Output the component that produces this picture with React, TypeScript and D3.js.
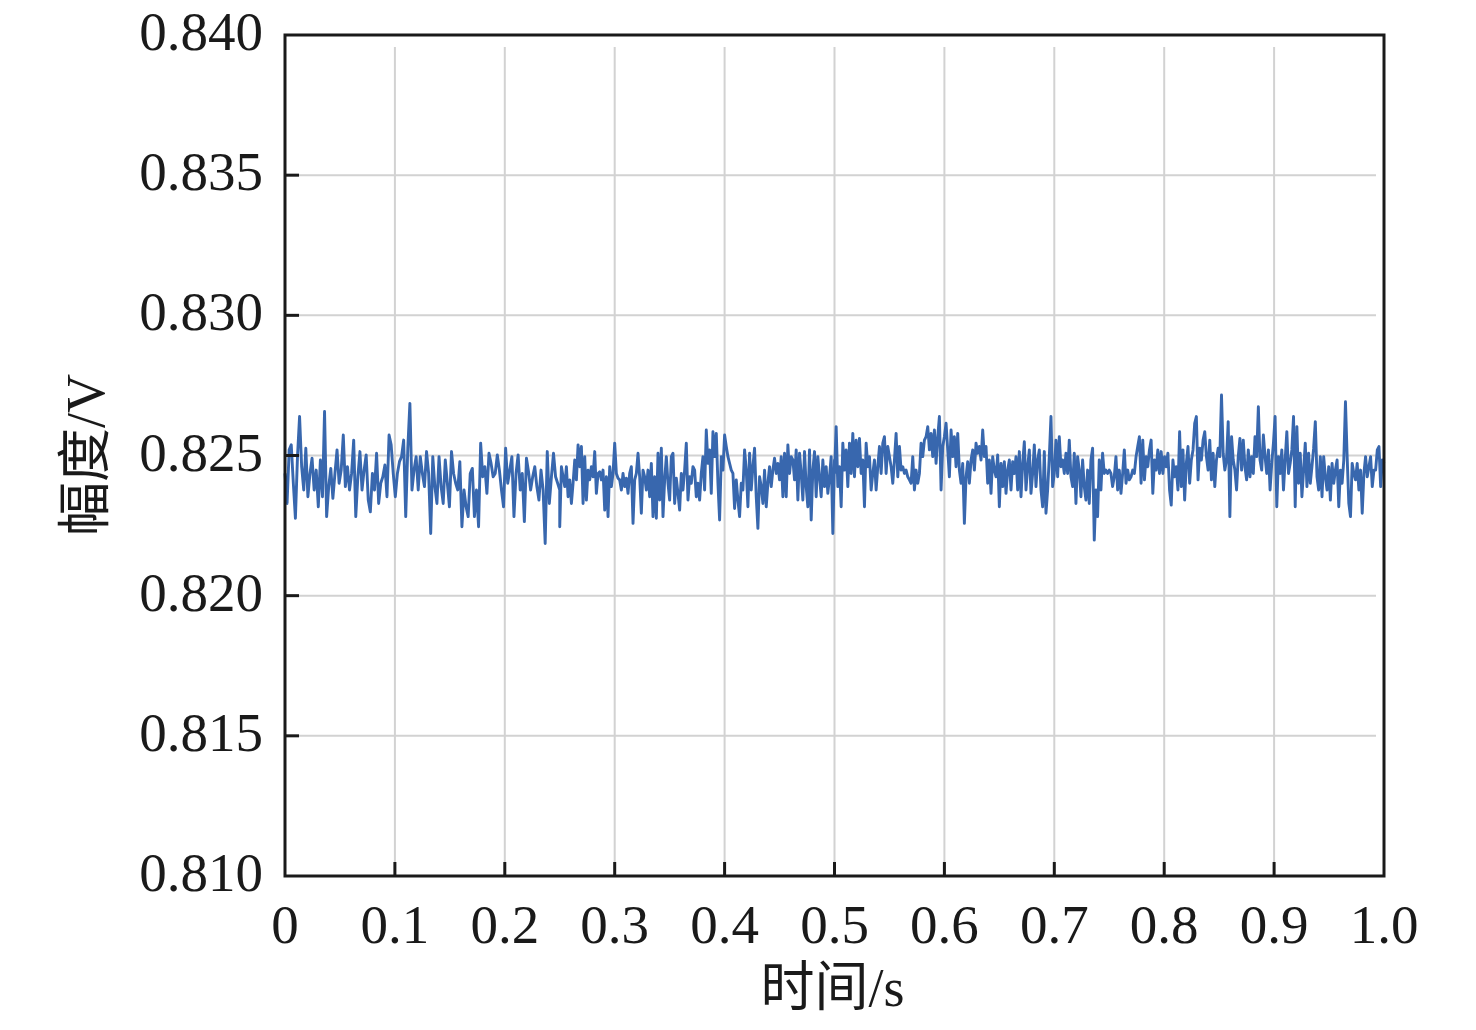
import * as d3 from "d3";
import React from "react";

// amplitude readings in mV, one array per quarter second
const amplitudeQ1 = [
  824.36, 823.29, 825.20, 825.38, 824.01, 822.76, 824.96, 826.39, 824.60, 823.77,
  825.26, 823.53, 824.36, 824.90, 823.77, 824.48, 823.17, 824.84, 823.53, 826.57,
  822.82, 823.89, 824.54, 823.47, 824.36, 825.20, 824.01, 824.48, 825.73, 823.89,
  824.60, 823.77, 824.36, 825.55, 822.82, 824.24, 825.14, 823.77, 824.48, 825.02,
  823.41, 822.99, 824.36, 823.77, 825.08, 823.29, 824.01, 824.24, 824.66, 823.53,
  825.73, 825.38, 824.36, 823.53, 824.36, 824.78, 824.96, 825.55, 822.82, 825.26,
  826.86, 823.77, 824.48, 824.96, 823.77, 824.96, 824.36, 823.89, 825.14, 824.36,
  822.22, 824.96, 823.89, 823.29, 824.96, 823.89, 823.29, 824.84, 824.01, 823.17,
  825.14, 824.36, 824.01, 823.77, 824.78, 822.46, 823.77, 823.17, 822.82, 824.36,
  824.54, 822.82, 823.77, 822.46, 825.44, 824.24, 824.60, 823.65, 825.08, 824.72,
  824.24, 824.36, 825.02, 824.48, 823.77, 823.17, 825.26, 824.01, 824.48, 824.96,
  822.82, 824.36, 825.02, 823.77, 824.36, 822.64, 824.90, 824.42, 823.77, 824.24,
  824.60, 823.89, 823.41, 824.48, 823.77, 821.86, 825.14, 823.29, 824.24, 825.08,
  824.24, 824.01, 823.77,
];

const amplitudeQ2 = [
  822.46, 824.60, 824.24, 823.89, 824.60, 823.53, 824.13, 823.29, 824.01, 824.84,
  824.13, 825.38, 824.60, 825.32, 823.29, 824.96, 823.41, 824.48, 824.13, 824.60,
  824.24, 825.14, 823.65, 824.36, 824.42, 824.13, 824.48, 823.05, 824.24, 822.82,
  824.60, 823.89, 824.36, 825.44, 824.36, 824.19, 824.13, 823.77, 824.36, 823.89,
  824.19, 823.65, 824.36, 824.60, 822.58, 824.13, 824.36, 825.08, 824.24, 822.94,
  824.48, 824.24, 823.77, 824.48, 823.53, 824.72, 822.82, 824.24, 822.76, 825.08,
  823.41, 825.26, 822.82, 824.13, 824.96, 824.01, 823.41, 824.96, 825.08, 823.29,
  824.19, 823.65, 823.05, 824.36, 823.77, 824.48, 825.44, 823.41, 824.24, 824.01,
  824.60, 824.48, 823.53, 824.01, 823.41, 824.36, 824.96, 823.77, 825.91, 824.72,
  825.20, 823.65, 825.85, 824.96, 825.79, 824.01, 822.70, 824.96, 824.48, 825.73,
  825.32, 824.96, 824.72, 824.48, 824.36, 823.11, 824.13, 823.41, 822.82, 824.01,
  823.77, 825.20, 824.48, 823.17, 825.08, 823.77, 824.60, 825.26, 823.53, 822.40,
  824.24, 823.89, 823.29, 824.48, 823.17, 824.01, 824.60, 823.89, 824.48, 824.90,
  824.36, 824.72, 824.13, 824.96, 823.53, 825.08, 823.53, 825.38, 824.36, 824.96,
  824.84, 824.13, 825.20, 823.41, 825.08, 824.36, 823.41, 825.14, 823.89, 823.17,
  825.20, 822.70, 824.48, 825.14, 823.53, 824.96, 824.24, 823.53, 824.84, 823.89,
  824.60, 823.65, 824.24, 824.96, 822.22, 824.84,
];

const amplitudeQ3 = [
  824.36, 826.03, 823.89, 824.60, 823.17, 825.44, 824.48, 825.20, 823.89, 825.44,
  824.36, 825.79, 824.24, 825.55, 824.60, 825.61, 824.36, 824.84, 823.17, 825.44,
  824.60, 824.96, 823.77, 824.36, 824.84, 823.77, 824.60, 825.32, 824.36, 825.44,
  825.67, 824.36, 825.32, 824.96, 824.60, 824.01, 824.84, 825.79, 824.24, 825.32,
  824.48, 824.60, 824.36, 824.48, 824.24, 824.13, 824.01, 824.96, 823.77, 824.48,
  824.01, 824.36, 825.44, 824.96, 825.55, 825.67, 826.03, 825.20, 825.79, 824.96,
  825.91, 824.72, 825.67, 826.39, 823.77, 825.32, 825.67, 826.15, 825.20, 824.24,
  825.91, 824.96, 825.67, 824.60, 825.79, 824.48, 824.01, 824.72, 822.58, 824.24,
  824.78, 824.01, 824.84, 825.20, 824.48, 825.44, 825.08, 825.32, 824.84, 825.91,
  824.96, 825.32, 824.01, 824.84, 823.65, 824.96, 824.48, 824.24, 825.02, 823.17,
  824.72, 823.89, 824.78, 823.65, 824.48, 824.84, 823.77, 824.78, 824.36, 824.96,
  823.77, 825.14, 823.53, 824.72, 825.49, 823.77, 824.60, 825.20, 823.65, 824.36,
  825.38, 823.89, 824.84, 825.20, 823.77, 823.17, 825.14, 822.94, 823.77, 824.96,
  826.39, 823.89, 824.36, 825.55, 824.24, 825.67, 824.60, 824.84, 824.36, 825.08,
  824.36, 825.55, 824.24, 823.89, 825.08, 823.29, 824.96, 824.48, 823.53, 824.84,
  823.89, 823.41, 824.48, 823.29, 824.84, 825.26, 821.98, 823.77, 822.82, 824.84,
  823.77, 825.08, 824.36, 824.48, 824.36, 824.48,
];

const amplitudeQ4 = [
  824.48, 824.36, 823.89, 824.24, 824.96, 823.77, 824.48, 823.65, 824.36, 825.20,
  824.01, 824.48, 824.13, 824.24, 824.48, 824.36, 824.96, 825.32, 825.67, 824.01,
  825.55, 824.13, 824.96, 824.60, 825.20, 825.55, 823.65, 824.84, 824.48, 825.20,
  824.36, 825.14, 824.36, 824.96, 824.60, 825.08, 823.77, 823.23, 824.84, 824.24,
  824.60, 823.77, 825.85, 823.89, 825.20, 823.41, 824.72, 825.32, 824.01, 824.84,
  825.20, 826.15, 826.39, 824.13, 825.26, 824.84, 825.55, 825.85, 824.96, 824.48,
  825.55, 824.13, 825.08, 823.89, 824.84, 825.26, 824.96, 827.16, 825.08, 824.48,
  824.84, 826.21, 822.82, 825.67, 824.84, 824.48, 823.77, 824.96, 825.61, 824.48,
  825.55, 824.60, 824.13, 825.20, 824.24, 824.96, 824.36, 825.67, 824.96, 826.74,
  824.84, 824.48, 825.73, 824.96, 824.36, 825.20, 823.77, 824.72, 825.44, 826.39,
  823.17, 824.96, 824.36, 825.20, 823.77, 824.84, 825.85, 824.36, 824.72, 825.20,
  826.39, 823.17, 826.03, 824.01, 825.08, 823.53, 824.48, 825.44, 823.89, 825.08,
  824.01, 824.60, 825.26, 826.21, 824.24, 823.77, 824.96, 823.53, 824.96, 824.24,
  823.77, 824.60, 823.41, 824.72, 824.01, 824.48, 824.84, 823.17, 824.48, 824.01,
  824.84, 826.92, 824.96, 823.29, 822.82, 824.72, 824.36, 824.13, 824.72, 823.77,
  824.48, 822.94, 824.36, 824.96, 824.24, 824.60, 824.96, 823.89, 824.48, 824.48,
  825.20, 825.32, 823.89, 824.84, 824.72,
];

const xTicks = [0, 0.1, 0.2, 0.3, 0.4, 0.5, 0.6, 0.7, 0.8, 0.9, 1.0];
const xTickLabels = ["0", "0.1", "0.2", "0.3", "0.4", "0.5", "0.6", "0.7", "0.8", "0.9", "1.0"];
const yTicks = [0.81, 0.815, 0.82, 0.825, 0.83, 0.835, 0.84];
const yTickLabels = ["0.810", "0.815", "0.820", "0.825", "0.830", "0.835", "0.840"];
const xTitle = "时间/s";
const yTitle = "幅度/V";

const W = 1476;
const H = 1030;
const margin = { top: 35, right: 92, bottom: 154, left: 285 };
const serif = "'Liberation Serif', 'Times New Roman', 'Noto Sans CJK SC', serif";

export default function App() {
  const width = W - margin.left - margin.right;
  const height = H - margin.top - margin.bottom;

  const x = d3.scaleLinear().domain([0, 1]).range([0, width]);
  const y = d3.scaleLinear().domain([0.81, 0.84]).range([height, 0]);

  // each quarter second is sampled evenly
  const quarters = [amplitudeQ1, amplitudeQ2, amplitudeQ3, amplitudeQ4];
  const points: [number, number][] = [];
  quarters.forEach((arr, k) => {
    arr.forEach((mv, i) => {
      points.push([0.25 * k + (0.25 * i) / (arr.length - 1), mv / 1000]);
    });
  });

  const line = d3.line<[number, number]>()
    .x(d => x(d[0]))
    .y(d => y(d[1]));

  const fontSize = 55;
  const tickLen = 14;

  return (
    <svg width={W} height={H} style={{ position: "absolute", left: 0, top: 0, background: "#fff" }}>
      <g transform={`translate(${margin.left},${margin.top})`}>
        {/* grid */}
        {xTicks.slice(1, -1).map(t => (
          <line key={"gx" + t} x1={x(t)} x2={x(t)} y1={12} y2={height}
            stroke="#d2d2d2" strokeWidth={2} />
        ))}
        {yTicks.slice(1, -1).map(t => (
          <line key={"gy" + t} x1={0} x2={width - 8} y1={y(t)} y2={y(t)}
            stroke="#d2d2d2" strokeWidth={2} />
        ))}

        <path d={line(points) ?? ""} fill="none" stroke="#3867ae" strokeWidth={2.9}
          strokeLinejoin="round" />

        {/* ticks inside */}
        {xTicks.slice(1, -1).map(t => (
          <line key={"tx" + t} x1={x(t)} x2={x(t)} y1={height} y2={height - tickLen}
            stroke="#1a1a1a" strokeWidth={3} />
        ))}
        {yTicks.slice(1, -1).map(t => (
          <line key={"ty" + t} x1={0} x2={tickLen} y1={y(t)} y2={y(t)}
            stroke="#1a1a1a" strokeWidth={3} />
        ))}

        <rect x={0} y={0} width={width} height={height} fill="none"
          stroke="#1a1a1a" strokeWidth={3} />

        {/* tick labels */}
        {yTicks.map((t, i) => (
          <text key={"ly" + t} x={-22} y={y(t) + 15} textAnchor="end"
            fontFamily={serif} fontSize={fontSize} fill="#1a1a1a">
            {yTickLabels[i]}
          </text>
        ))}
        {xTicks.map((t, i) => (
          <text key={"lx" + t} x={x(t)} y={height + 67} textAnchor="middle"
            fontFamily={serif} fontSize={fontSize} fill="#1a1a1a">
            {xTickLabels[i]}
          </text>
        ))}

        {/* titles */}
        <text x={width / 2 - 2} y={height + 130} textAnchor="middle"
          fontFamily={serif} fontSize={54} fill="#1a1a1a">
          {xTitle}
        </text>
        <text transform={`translate(${86 - margin.left},${455 - margin.top}) rotate(-90)`}
          textAnchor="middle" dominantBaseline="central"
          fontFamily={serif} fontSize={54} fill="#1a1a1a">
          {yTitle}
        </text>
      </g>
    </svg>
  );
}
